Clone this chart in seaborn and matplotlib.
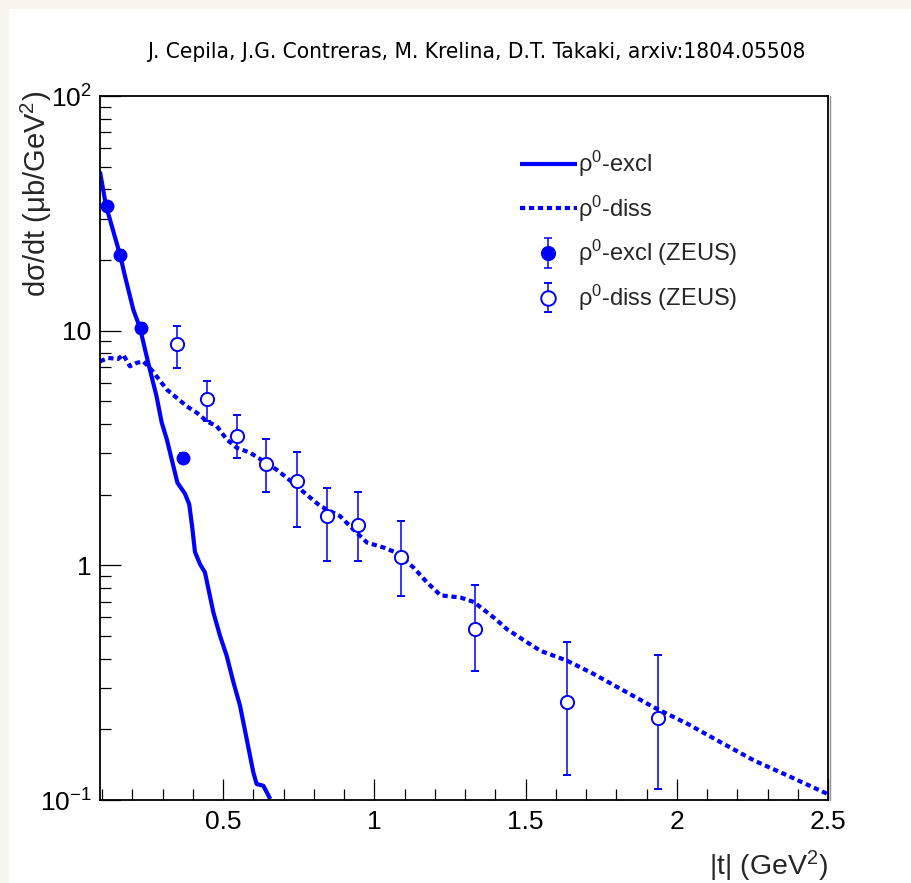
import matplotlib
matplotlib.use("Agg")
import matplotlib.pyplot as plt
from matplotlib.patches import Rectangle
from matplotlib.lines import Line2D
from matplotlib.ticker import MultipleLocator, LogLocator, NullFormatter
from matplotlib.legend_handler import HandlerErrorbar
from matplotlib.container import ErrorbarContainer
import seaborn as sns

# ---- model curves: |t| (GeV^2) and dsigma/dt (mub/GeV^2) ----
excl_t = [0.093, 0.113, 0.159, 0.176, 0.203, 0.225, 0.242, 0.258, 0.280, 0.297,
          0.314, 0.330, 0.349, 0.374, 0.388, 0.398, 0.407, 0.424, 0.440, 0.468, 0.490,
          0.512, 0.534, 0.556, 0.578, 0.600, 0.611, 0.633, 0.656]
excl_v = [47.6, 34.0, 21.1, 17.0, 12.3, 10.3, 8.30, 6.82, 5.25, 4.06,
          3.44, 2.83, 2.25, 2.02, 1.82, 1.45, 1.14, 1.01, 0.933, 0.629, 0.500,
          0.411, 0.318, 0.252, 0.182, 0.131, 0.117, 0.115, 0.101]

diss_t = [0.093, 0.120, 0.153, 0.170, 0.192, 0.214, 0.236, 0.258, 0.280, 0.314,
          0.347, 0.380, 0.413, 0.446, 0.479, 0.512, 0.545, 0.589, 0.633, 0.678,
          0.711, 0.755, 0.821, 0.887, 0.931, 0.976, 1.031, 1.075, 1.130, 1.175,
          1.219, 1.285, 1.329, 1.395, 1.439, 1.506, 1.550, 1.638, 1.726, 1.815,
          1.925, 2.036, 2.146, 2.257, 2.367, 2.499]
diss_v = [7.40, 7.65, 7.58, 7.90, 7.05, 7.29, 7.40, 6.94, 6.39, 5.61,
          5.17, 4.76, 4.47, 4.11, 3.92, 3.44, 3.17, 3.02, 2.78, 2.55,
          2.36, 2.11, 1.79, 1.62, 1.42, 1.25, 1.19, 1.13, 0.977, 0.844,
          0.745, 0.729, 0.698, 0.599, 0.534, 0.469, 0.432, 0.392, 0.344, 0.297,
          0.248, 0.211, 0.176, 0.147, 0.127, 0.106]

# ---- ZEUS measurements ----
zeus_excl_t = [0.116, 0.159, 0.228, 0.368]
zeus_excl_v = [34.0, 21.1, 10.3, 2.88]
zeus_excl_err = [1.5, 0.9, 0.45, 0.12]

zeus_diss_t = [0.348, 0.447, 0.546, 0.642, 0.745, 0.844, 0.947, 1.089, 1.334, 1.636, 1.937]
zeus_diss_v = [8.8, 5.13, 3.57, 2.69, 2.28, 1.63, 1.49, 1.08, 0.534, 0.261, 0.223]
zeus_diss_up = [1.7, 1.0, 0.82, 0.75, 0.75, 0.50, 0.57, 0.46, 0.29, 0.21, 0.19]
zeus_diss_dn = [1.9, 0.99, 0.69, 0.63, 0.83, 0.59, 0.45, 0.34, 0.18, 0.133, 0.112]

x_ticks = [0.5, 1.0, 1.5, 2.0, 2.5]
x_tick_labels = ["0.5", "1", "1.5", "2", "2.5"]
y_ticks = [0.1, 1, 10, 100]
y_tick_labels = [r"$\mathdefault{10^{-1}}$", "1", "10", r"$\mathdefault{10^{2}}$"]

title = "J. Cepila, J.G. Contreras, M. Krelina, D.T. Takaki, arxiv:1804.05508"

sns.set_theme(style="ticks")
plt.rcParams["font.family"] = ["Liberation Sans", "DejaVu Sans"]
plt.rcParams["mathtext.fontset"] = "custom"
plt.rcParams["mathtext.rm"] = "Liberation Sans"
plt.rcParams["mathtext.it"] = "Liberation Sans"
plt.rcParams["mathtext.bf"] = "Liberation Sans:bold"

W, H = 911, 883
fig = plt.figure(figsize=(W / 100, H / 100), dpi=100)
fig.patch.set_facecolor("#f6f5ee")
fig.add_artist(Rectangle((9 / W, 0), 1 - 9 / W, 1 - 9 / H, transform=fig.transFigure,
                         facecolor="white", edgecolor="none", zorder=0))

ax = fig.add_axes([100 / W, 83 / H, 728 / W, 704 / H])
ax.set_facecolor("white")

blue = "#0000ff"
sns.lineplot(x=excl_t, y=excl_v, ax=ax, color=blue, lw=3.0, sort=False,
             estimator=None, legend=False)
sns.lineplot(x=diss_t, y=diss_v, ax=ax, color=blue, lw=3.0, sort=False,
             estimator=None, legend=False)
line_excl, line_diss = ax.lines[0], ax.lines[1]
line_excl.set_solid_capstyle("butt")
line_excl.set_solid_joinstyle("round")
line_diss.set_linestyle((0, (1.25, 0.9)))
line_diss.set_dash_capstyle("butt")
line_excl.set_label(r"ρ$^{0}$-excl")
line_diss.set_label(r"ρ$^{0}$-diss")

eb_excl = ax.errorbar(zeus_excl_t, zeus_excl_v, yerr=zeus_excl_err, fmt="o", color=blue,
                      ms=9, elinewidth=1.1, capsize=3, capthick=1.1, zorder=4,
                      label=r"ρ$^{0}$-excl (ZEUS)")
eb_diss = ax.errorbar(zeus_diss_t, zeus_diss_v, yerr=[zeus_diss_dn, zeus_diss_up], fmt="o",
                      color=blue, mfc="white", mec=blue, mew=1.4, ms=9.5,
                      elinewidth=1.1, capsize=3, capthick=1.1, zorder=4,
                      label=r"ρ$^{0}$-diss (ZEUS)")

ax.set_yscale("log")
ax.set_xlim(0.093, 2.5)
ax.set_ylim(0.1, 100)
ax.set_xticks(x_ticks)
ax.set_xticklabels(x_tick_labels)
ax.xaxis.set_minor_locator(MultipleLocator(0.1))
ax.set_yticks(y_ticks)
ax.set_yticklabels(y_tick_labels)
ax.yaxis.set_minor_locator(LogLocator(base=10, subs=range(2, 10)))
ax.yaxis.set_minor_formatter(NullFormatter())

ax.tick_params(which="both", direction="in", top=False, right=False, color="black",
               width=0.9, labelsize=19, labelcolor="black")
ax.tick_params(which="major", length=15)
ax.tick_params(which="minor", length=7.7)
ax.tick_params(axis="x", which="major", pad=7)
ax.tick_params(axis="y", which="major", pad=6)
for s in ax.spines.values():
    s.set_color("black")
    s.set_linewidth(1.3)

ax.set_xlabel(r"|t| (GeV$^{2}$)", fontsize=20.5, loc="right")
ax.xaxis.label.set_verticalalignment("center")
ax.xaxis.set_label_coords(1.0, -(866 - 800) / 704)
ax.set_ylabel(r"dσ/dt (μb/GeV$^{2}$)", fontsize=21, loc="top")
ax.yaxis.label.set_verticalalignment("center")
ax.yaxis.set_label_coords(-(100 - 36) / 728, 1.0 + 5 / 704)

fig.add_artist(Line2D([830 / W, 830 / W], [83 / H, 787 / H], transform=fig.transFigure,
                      color="#909090", lw=1.0))

fig.text(476 / W, 1 - 52 / H, title, ha="center", va="center", fontsize=16.2,
         family="DejaVu Sans", fontstretch="condensed", color="black")

ax.legend(handles=[line_excl, line_diss, eb_excl, eb_diss], loc="upper left",
          bbox_to_anchor=(520 / W, 1 - 149 / H), bbox_transform=fig.transFigure,
          frameon=False, fontsize=17, handlelength=2.4, handletextpad=0.05,
          labelspacing=0.61, borderpad=0, borderaxespad=0, markerscale=1.1,
          handler_map={ErrorbarContainer: HandlerErrorbar(xerr_size=0.3, yerr_size=0.62)})

fig.savefig("out.png", dpi=100, facecolor=fig.get_facecolor())
